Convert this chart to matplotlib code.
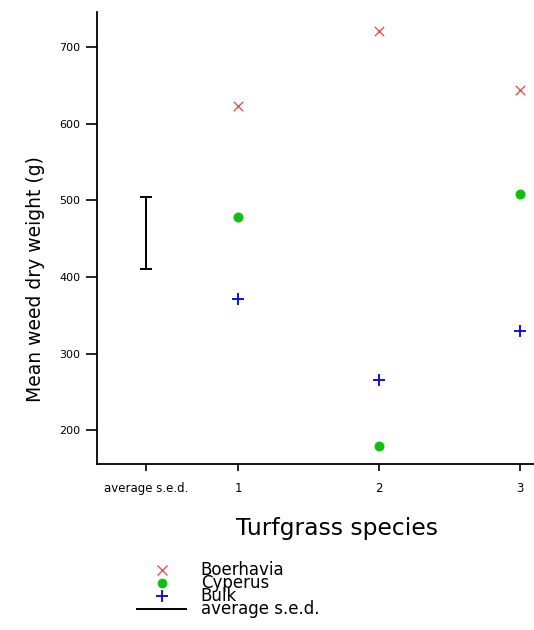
import matplotlib
matplotlib.use("Agg")
import matplotlib.pyplot as plt
from matplotlib.lines import Line2D

# data
species = [1, 2, 3]
boerhavia = [623, 721, 644]
cyperus = [479, 180, 508]
bulk = [372, 266, 330]
sed_pos = 0.35
sed_mid = 458
sed_val = 94

fig = plt.figure(figsize=(5.34, 6.3), dpi=100)
ax = fig.add_axes([97/534, 1-464/630, 437/534, 452/630])

ax.scatter(species, boerhavia, marker='x', color='#f05050', s=45, linewidths=1.0, label='Boerhavia')
ax.scatter(species, cyperus, marker='o', color='#10c010', s=38, label='Cyperus')
ax.scatter(species, bulk, marker='+', color='#1010e0', s=80, linewidths=1.4, label='Bulk')
ax.errorbar([sed_pos], [sed_mid], yerr=[sed_val/2], color='black', capsize=4, lw=1.4, capthick=1.4, fmt='none')

ax.set_xlim(0, 3.1)
ax.set_ylim(156, 746)
ax.set_xticks([sed_pos] + species)
ax.set_xticklabels(['average s.e.d.', '1', '2', '3'], fontsize=8.5)
ax.set_yticks([200, 300, 400, 500, 600, 700])
ax.tick_params(axis='y', labelsize=8, length=8, width=1.2, pad=4)
ax.tick_params(axis='x', length=5, width=1.2, pad=8)
for s in ['top', 'right']:
    ax.spines[s].set_visible(False)
for s in ['left', 'bottom']:
    ax.spines[s].set_linewidth(1.3)
ax.set_ylabel('Mean weed dry weight (g)', fontsize=13.5)
ax.yaxis.set_label_coords(-52/437, 0.41)
ax.set_xlabel('Turfgrass species', fontsize=16.8)
ax.xaxis.set_label_coords(240/437, -53/452)

# legend rows are packed tightly, as in the original
handles = [Line2D([], [], marker='x', color='#f05050', ls='none', ms=7),
           Line2D([], [], marker='o', color='#10c010', ls='none', ms=6),
           Line2D([], [], marker='+', color='#1010e0', ls='none', ms=9, mew=1.4),
           Line2D([], [], color='black', lw=1.4)]
fig.legend(handles, ['Boerhavia', 'Cyperus', 'Bulk', 'average s.e.d.'],
           loc='upper left', bbox_to_anchor=(129/534, 1-553/630), frameon=False,
           fontsize=12, labelspacing=-0.3, handlelength=2.9, handletextpad=0.9,
           handleheight=0.5, borderpad=0)

fig.savefig('out.png', dpi=100)
